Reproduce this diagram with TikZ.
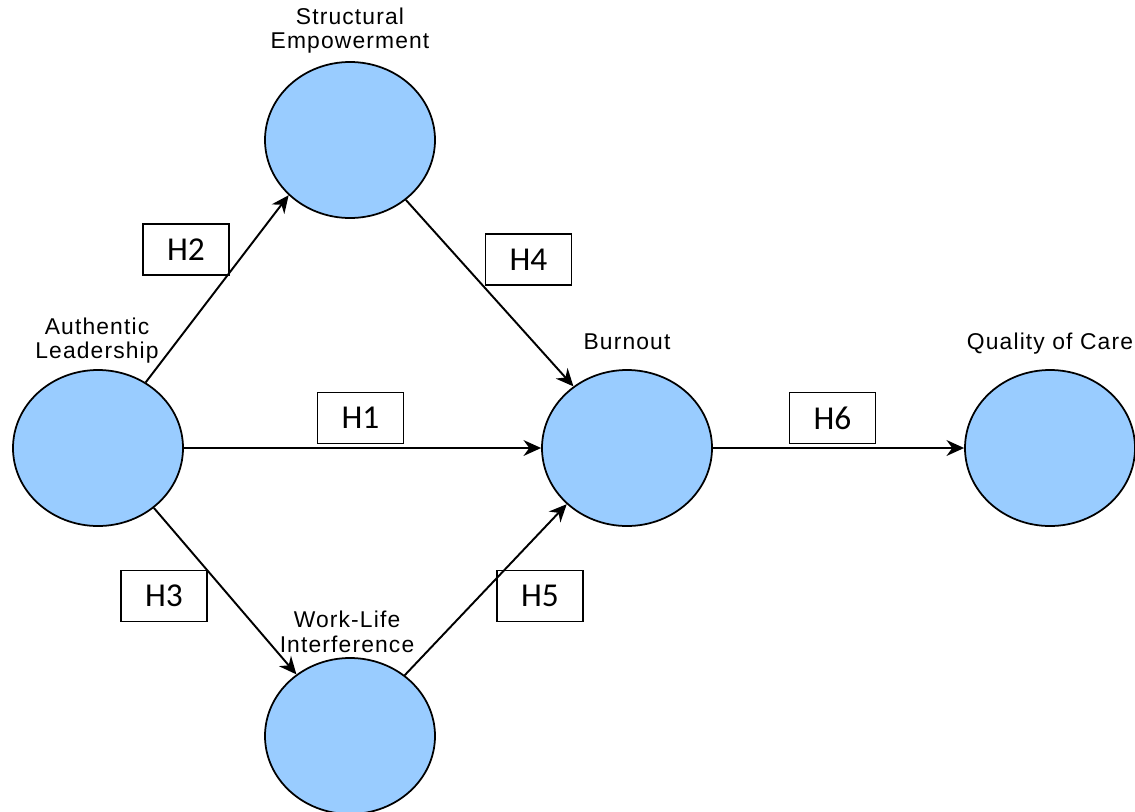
\documentclass[tikz,border=0pt]{standalone}
\usepackage{fontspec}
\newfontfamily\constructfont{Liberation Sans}[LetterSpace=5]
\newfontfamily\hypfont{Carlito}
\definecolor{constructblue}{RGB}{153, 204, 255}
\usetikzlibrary{shapes.geometric, arrows.meta, positioning}

\begin{document}
\begin{tikzpicture}[
  construct/.style={draw=black, fill=constructblue, ellipse, line width=1pt, minimum width=3.4cm, minimum height=3.12cm, inner sep=0pt},
  clabel/.style={align=center, inner sep=0pt, font=\constructfont\fontsize{13}{14}\selectfont},
  hyp/.style={draw=black, line width=1.1pt, minimum width=1.72cm, minimum height=1.02cm, inner sep=0pt, font=\hypfont\fontsize{19}{21}\selectfont},
  link/.style={-{Stealth[length=10pt, width=9pt]}, line width=1.1pt}
]
  \useasboundingbox (0,0) rectangle (22.7,-16.22);

  % Constructs
  \node[construct] (lead) at (1.96, -8.96) {};
  \node[construct] (struct) at (7.0, -2.8) {};
  \node[construct] (burn) at (12.54, -8.96) {};
  \node[construct] (care) at (21.0, -8.96) {};
  \node[construct] (work) at (7.0, -14.72) {};

  % Construct names
  \node[clabel] (structlbl) at (7.0, -0.61) {Structural\\Empowerment};
  \node[clabel] (leadlbl) at (1.94, -6.81) {Authentic\\Leadership};
  \node[clabel, anchor=base] (burnlbl) at (12.54, -6.98) {Burnout};
  \node[clabel, anchor=base] (carelbl) at (21.0, -6.98) {Quality of Care};
  \node[clabel] (worklbl) at (6.94, -12.64) {Work-Life\\Interference};

  % Hypotheses
  \node[hyp] (h2) at (3.72, -4.99) {H2};
  \node[hyp] (h4) at (10.57, -5.19) {H4};
  \node[hyp] (h1) at (7.21, -8.36) {H1};
  \node[hyp] (h6) at (16.65, -8.36) {H6};
  \node[hyp] (h3) at (3.28, -11.92) {H3};
  \node[hyp] (h5) at (10.80, -11.92) {H5};

  % Paths
  \draw[link] (lead.54) -- (struct.222);
  \draw[link] (struct.-47) -- (burn.131);
  \draw[link] (lead) -- (burn);
  \draw[link] (lead.-47) -- (work.131);
  \draw[link] (work.48) -- (burn.223);
  \draw[link] (burn) -- (care);
\end{tikzpicture}
\end{document}
